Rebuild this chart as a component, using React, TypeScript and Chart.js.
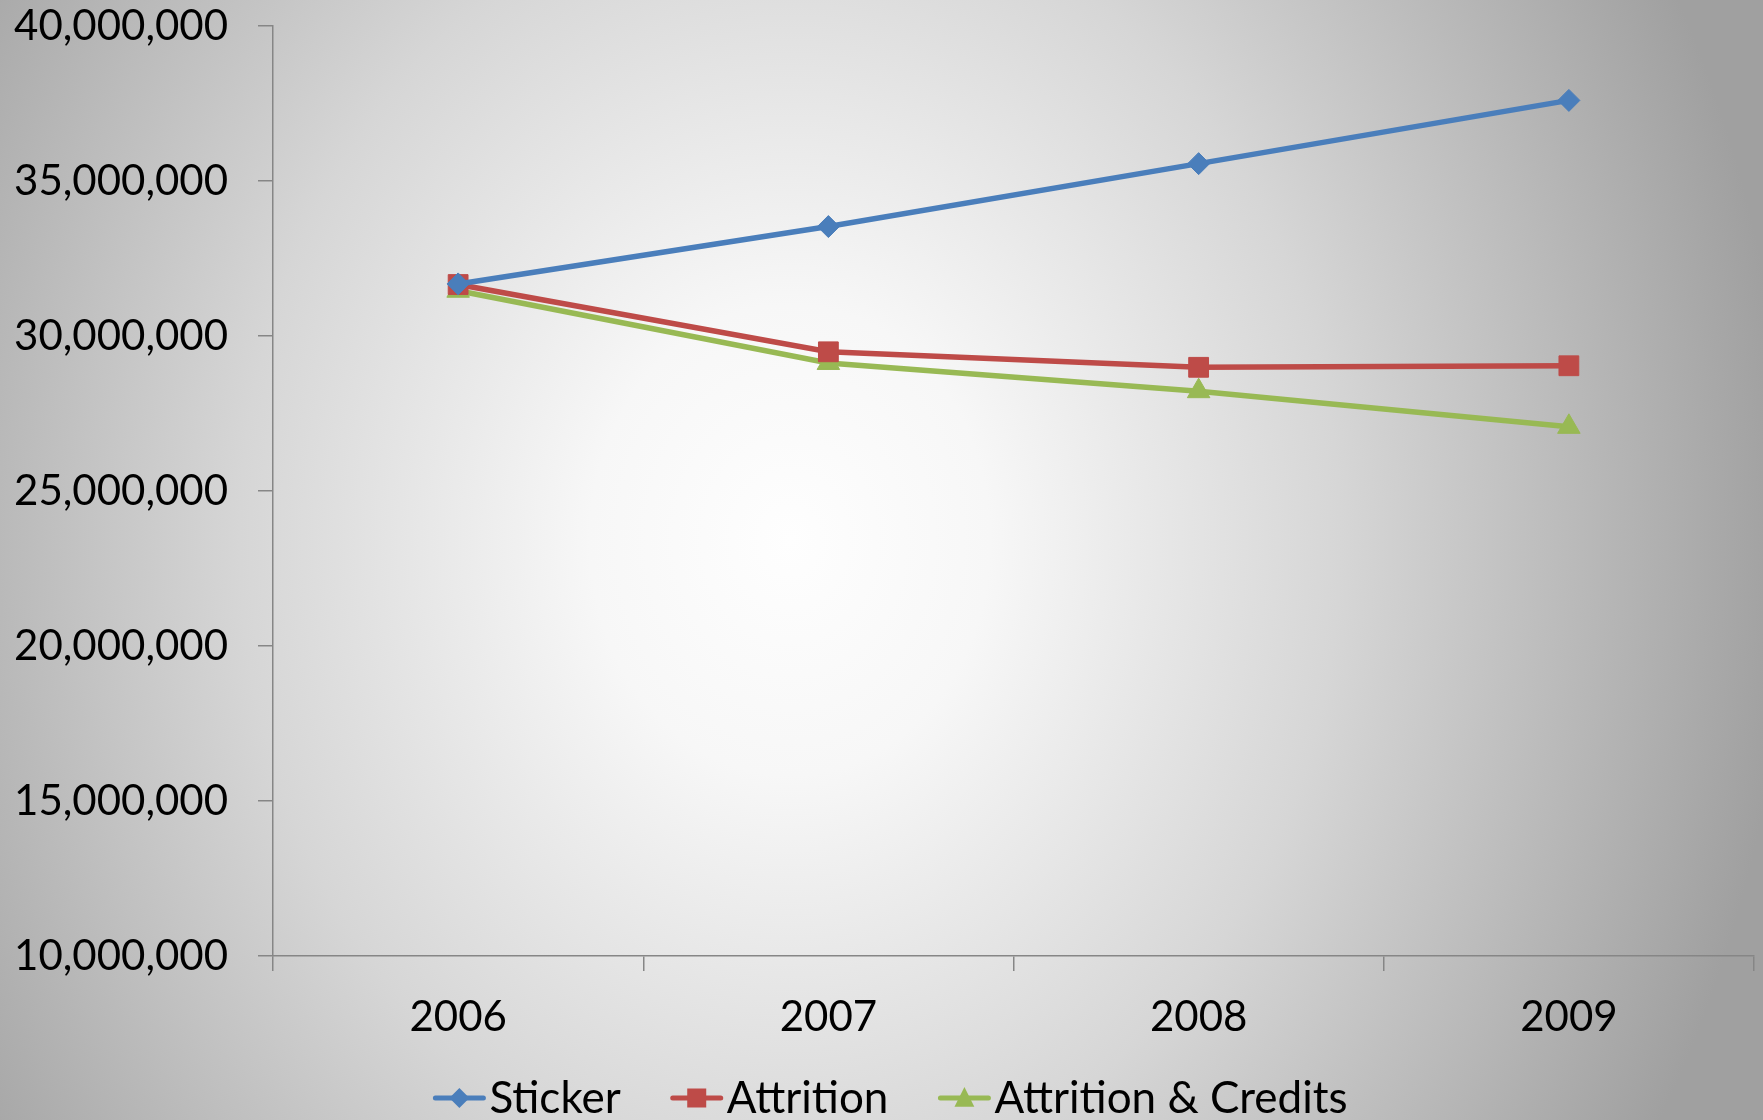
import React, { useEffect, useRef } from 'react';
import { Chart, registerables } from 'chart.js';

Chart.register(...registerables);

// ---- data ----
const years = ['2006', '2007', '2008', '2009'];
const seriesNames = ['Sticker', 'Attrition', 'Attrition & Credits'];
const stickerValues = [31680000, 33530000, 35560000, 37600000];
const attritionValues = [31660000, 29490000, 28990000, 29040000];
const creditsValues = [31460000, 29130000, 28220000, 27070000];
const yMin = 10000000;
const yMax = 40000000;
const yStep = 5000000;

// ---- style ----
const FONT = 'Lato, "Open Sans", sans-serif';
const AXIS = '#868686';
const COLORS = ['#4a7ebb', '#be4b48', '#98b954'];
const STYLES = ['rectRot', 'rect', 'triangle'];
const RADII = [11, 14, 13];

function drawMarker(ctx: CanvasRenderingContext2D, style: string, x: number, y: number, color: string) {
  ctx.save();
  ctx.fillStyle = color;
  ctx.beginPath();
  if (style === 'rectRot') {
    const r = 10;
    ctx.moveTo(x, y - r);
    ctx.lineTo(x + r, y);
    ctx.lineTo(x, y + r);
    ctx.lineTo(x - r, y);
  } else if (style === 'rect') {
    const s = 9.5;
    ctx.rect(x - s, y - s, 2 * s, 2 * s);
  } else {
    const r = 11;
    ctx.moveTo(x, y - r);
    ctx.lineTo(x + r * 0.9, y + r * 0.8);
    ctx.lineTo(x - r * 0.9, y + r * 0.8);
  }
  ctx.closePath();
  ctx.fill();
  ctx.restore();
}

const bgPlugin = {
  id: 'bgGradient',
  beforeDraw(chart: any) {
    const ctx: CanvasRenderingContext2D = chart.ctx;
    const w = chart.width;
    const h = chart.height;
    const cx = 790;
    const cy = 540;
    const sy = 0.85;
    ctx.save();
    ctx.translate(cx, cy);
    ctx.scale(1, 1 / sy);
    const g = ctx.createRadialGradient(0, 0, 0, 0, 0, 1000);
    g.addColorStop(0, '#fefefe');
    g.addColorStop(0.2, '#f7f7f7');
    g.addColorStop(0.55, '#d6d6d6');
    g.addColorStop(1, '#a0a0a0');
    ctx.fillStyle = g;
    ctx.fillRect(-cx, -cy * sy, w, h * sy);
    ctx.restore();
  },
};

const legendPlugin = {
  id: 'excelLegend',
  afterDraw(chart: any) {
    const ctx: CanvasRenderingContext2D = chart.ctx;
    ctx.save();
    ctx.font = `44px ${FONT}`;
    const iconW = 52;
    const gapIcon = 4;
    const gapItem = 50;
    const items = chart.data.datasets.map((ds: any) => ({
      label: ds.label as string,
      color: ds.borderColor as string,
      style: ds.pointStyle as string,
      w: ctx.measureText(ds.label).width,
    }));
    const total =
      items.reduce((s: number, it: any) => s + iconW + gapIcon + it.w, 0) + gapItem * (items.length - 1);
    let x = chart.width / 2 + 9 - total / 2;
    const yc = chart.height - 22;
    const yb = chart.height - 7;
    for (const it of items) {
      ctx.strokeStyle = it.color;
      ctx.lineWidth = 5;
      ctx.lineCap = 'round';
      ctx.beginPath();
      ctx.moveTo(x + 2, yc);
      ctx.lineTo(x + iconW - 2, yc);
      ctx.stroke();
      drawMarker(ctx, it.style, x + iconW / 2, yc, it.color);
      ctx.fillStyle = '#000';
      ctx.textAlign = 'left';
      ctx.textBaseline = 'alphabetic';
      ctx.fillText(it.label, x + iconW + gapIcon, yb);
      x += iconW + gapIcon + it.w + gapItem;
    }
    ctx.restore();
  },
};

export default function App() {
  const ref = useRef<HTMLCanvasElement>(null);
  useEffect(() => {
    document.body.style.margin = '0';
    const values = [stickerValues, attritionValues, creditsValues];
    const chart = new Chart(ref.current as HTMLCanvasElement, {
      type: 'line',
      data: {
        labels: years,
        datasets: seriesNames.map((name, i) => ({
          label: name,
          data: values[i],
          borderColor: COLORS[i],
          backgroundColor: COLORS[i],
          borderWidth: 5.5,
          pointStyle: STYLES[i] as any,
          pointRadius: RADII[i],
          pointHoverRadius: RADII[i],
          pointBorderWidth: 1,
          pointBackgroundColor: COLORS[i],
          pointBorderColor: COLORS[i],
          tension: 0,
          fill: false,
        })),
      },
      options: {
        responsive: false,
        animation: false,
        devicePixelRatio: 1,
        layout: { autoPadding: false, padding: { top: 26, right: 9, left: 0, bottom: 0 } },
        plugins: {
          legend: { display: false },
          tooltip: { enabled: false },
        },
        scales: {
          x: {
            type: 'category',
            offset: true,
            grid: {
              offset: true,
              drawOnChartArea: false,
              drawTicks: true,
              tickLength: 15,
              color: AXIS,
              lineWidth: 1.5,
            },
            border: { color: AXIS, width: 1.5 },
            ticks: {
              color: '#000',
              font: { family: FONT, size: 42 },
              padding: 21,
              maxRotation: 0,
            },
            afterFit: (s: any) => {
              s.height = 164;
              s.paddingLeft = 0;
              s.paddingRight = 0;
            },
          },
          y: {
            min: yMin,
            max: yMax,
            grid: {
              drawOnChartArea: false,
              drawTicks: true,
              tickLength: 15,
              color: AXIS,
              lineWidth: 1.5,
            },
            border: { color: AXIS, width: 1.5 },
            ticks: {
              stepSize: yStep,
              color: '#000',
              font: { family: FONT, size: 42 },
              padding: 30,
              callback: (v: any) => Number(v).toLocaleString('en-US'),
            },
            afterFit: (s: any) => {
              s.width = 273;
              s.paddingTop = 0;
              s.paddingBottom = 0;
            },
          },
        },
      },
      plugins: [bgPlugin, legendPlugin],
    });
    return () => chart.destroy();
  }, []);
  return (
    <div style={{ position: 'absolute', left: 0, top: 0, width: 1763, height: 1120 }}>
      <canvas ref={ref} width={1763} height={1120} style={{ display: 'block', width: 1763, height: 1120 }} />
    </div>
  );
}
